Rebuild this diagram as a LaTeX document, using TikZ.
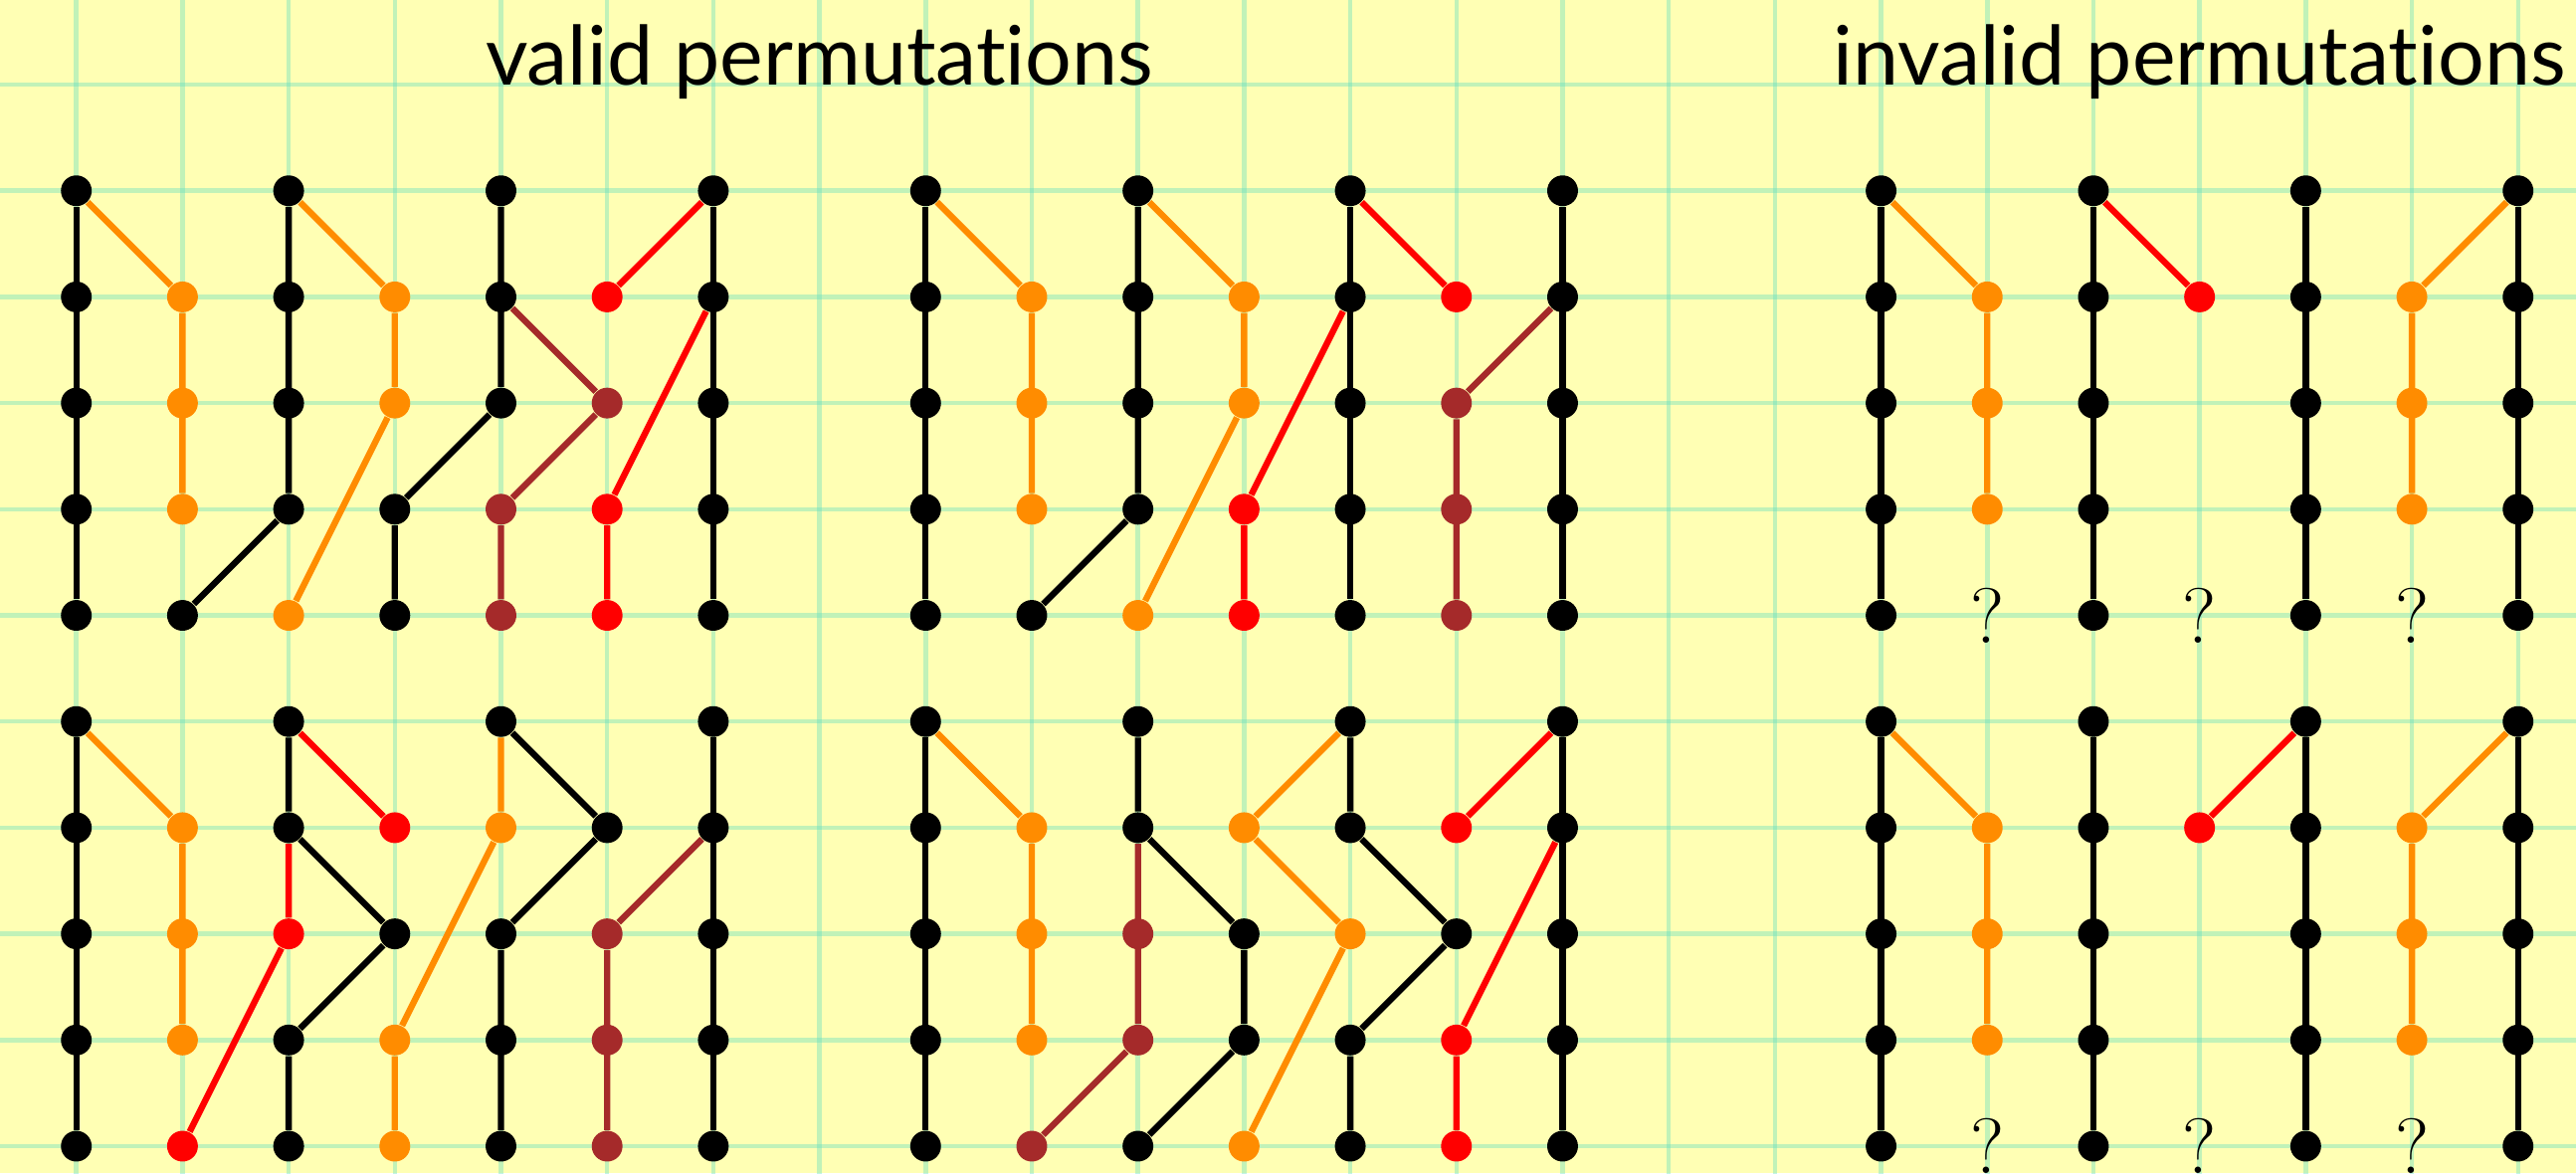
\documentclass[tikz,border=0pt]{standalone}
\usepackage{fontspec}
\newfontfamily\titolofont{Lato}[Ligatures=NoCommon]
\usetikzlibrary{positioning, backgrounds}
\definecolor{carta}{HTML}{FFFFB4}
\definecolor{griglia}{HTML}{66E0C0}
\definecolor{nero}{HTML}{000000}
\definecolor{arancio}{HTML}{FF8C00}
\definecolor{rosso}{HTML}{FF0000}
\definecolor{bruno}{HTML}{A52A2A}
\tikzset{
    pt/.style={circle, fill=#1, inner sep=0pt, minimum size=2.9mm},
    seg/.style={line width=1.7pt, draw=#1, line join=round},
    titolo/.style={font=\titolofont\fontsize{22}{26}\selectfont, anchor=base, inner sep=0pt},
    domanda/.style={font=\fontsize{21}{25}\selectfont, inner sep=0pt},
}
\pgfdeclarelayer{fondo}
\pgfdeclarelayer{linee}
\pgfsetlayers{fondo,linee,main}
% colonna piena di punti neri / colonna con punti riga/colore
\newcommand{\pieno}[2]{\foreach \r in {0,...,4} \node[pt=nero] (#1-#2-\r) at (#2,-\r) {};}
\newcommand{\colonna}[3]{\foreach \r/\k in {#3} \node[pt=\k] (#1-#2-\r) at (#2,-\r) {};}

\begin{document}
\begin{tikzpicture}
    \useasboundingbox (-0.719,-9.253) rectangle (23.546,1.797);
    % Carta a quadretti
    \begin{pgfonlayer}{fondo}
        \fill[carta] (-0.719,-9.253) rectangle (23.546,1.797);
        \foreach \x in {0,...,23} \draw[griglia, opacity=0.4, line width=1.2pt] (\x,-9.3) -- (\x,1.8);
        \foreach \y in {-9,...,1} \draw[griglia, opacity=0.4, line width=1.2pt] (-0.8,\y) -- (23.6,\y);
    \end{pgfonlayer}

    % Titoli
    \node[titolo] (tvalid) at (7,1) {valid permutations};
    \node[titolo] (tinvalid) at (20,1) {invalid permutations};

    % Valida A (in alto a sinistra)
    \pieno{A}{0} \pieno{A}{6}
    \colonna{A}{1}{1/arancio,2/arancio,3/arancio,4/nero}
    \colonna{A}{2}{0/nero,1/nero,2/nero,3/nero,4/arancio}
    \colonna{A}{3}{1/arancio,2/arancio,3/nero,4/nero}
    \colonna{A}{4}{0/nero,1/nero,2/nero,3/bruno,4/bruno}
    \colonna{A}{5}{1/rosso,2/bruno,3/rosso,4/rosso}
    \begin{pgfonlayer}{linee}
        \draw[seg=nero] (A-0-0) -- (A-0-4);
        \draw[seg=nero] (A-2-0) -- (A-2-3) -- (A-1-4);
        \draw[seg=nero] (A-3-4) -- (A-3-3) -- (A-4-2) -- (A-4-0);
        \draw[seg=nero] (A-6-0) -- (A-6-4);
        \draw[seg=arancio] (A-0-0) -- (A-1-1) -- (A-1-3);
        \draw[seg=arancio] (A-2-0) -- (A-3-1) -- (A-3-2) -- (A-2-4);
        \draw[seg=bruno] (A-4-1) -- (A-5-2) -- (A-4-3) -- (A-4-4);
        \draw[seg=rosso] (A-6-0) -- (A-5-1);
        \draw[seg=rosso] (A-6-1) -- (A-5-3) -- (A-5-4);
    \end{pgfonlayer}

    % Valida B (in alto al centro)
    \begin{scope}[shift={(8,0)}]
        \pieno{B}{0} \pieno{B}{4} \pieno{B}{6}
        \colonna{B}{1}{1/arancio,2/arancio,3/arancio,4/nero}
        \colonna{B}{2}{0/nero,1/nero,2/nero,3/nero,4/arancio}
        \colonna{B}{3}{1/arancio,2/arancio,3/rosso,4/rosso}
        \colonna{B}{5}{1/rosso,2/bruno,3/bruno,4/bruno}
    \end{scope}
    \begin{pgfonlayer}{linee}
        \draw[seg=nero] (B-0-0) -- (B-0-4);
        \draw[seg=nero] (B-2-0) -- (B-2-3) -- (B-1-4);
        \draw[seg=nero] (B-4-0) -- (B-4-4);
        \draw[seg=nero] (B-6-0) -- (B-6-4);
        \draw[seg=arancio] (B-0-0) -- (B-1-1) -- (B-1-3);
        \draw[seg=arancio] (B-2-0) -- (B-3-1) -- (B-3-2) -- (B-2-4);
        \draw[seg=rosso] (B-3-4) -- (B-3-3) -- (B-4-1);
        \draw[seg=rosso] (B-4-0) -- (B-5-1);
        \draw[seg=bruno] (B-6-1) -- (B-5-2) -- (B-5-4);
    \end{pgfonlayer}

    % Valida C (in basso a sinistra)
    \begin{scope}[shift={(0,-5)}]
        \pieno{C}{0} \pieno{C}{6}
        \colonna{C}{1}{1/arancio,2/arancio,3/arancio,4/rosso}
        \colonna{C}{2}{0/nero,1/nero,2/rosso,3/nero,4/nero}
        \colonna{C}{3}{1/rosso,2/nero,3/arancio,4/arancio}
        \colonna{C}{4}{0/nero,1/arancio,2/nero,3/nero,4/nero}
        \colonna{C}{5}{1/nero,2/bruno,3/bruno,4/bruno}
    \end{scope}
    \begin{pgfonlayer}{linee}
        \draw[seg=nero] (C-0-0) -- (C-0-4);
        \draw[seg=nero] (C-2-0) -- (C-2-1) -- (C-3-2) -- (C-2-3) -- (C-2-4);
        \draw[seg=nero] (C-4-0) -- (C-5-1) -- (C-4-2) -- (C-4-4);
        \draw[seg=nero] (C-6-0) -- (C-6-4);
        \draw[seg=arancio] (C-0-0) -- (C-1-1) -- (C-1-3);
        \draw[seg=arancio] (C-3-4) -- (C-3-3) -- (C-4-1) -- (C-4-0);
        \draw[seg=rosso] (C-1-4) -- (C-2-2) -- (C-2-1);
        \draw[seg=rosso] (C-2-0) -- (C-3-1);
        \draw[seg=bruno] (C-6-1) -- (C-5-2) -- (C-5-4);
    \end{pgfonlayer}

    % Valida D (in basso al centro)
    \begin{scope}[shift={(8,-5)}]
        \pieno{D}{0} \pieno{D}{6}
        \colonna{D}{1}{1/arancio,2/arancio,3/arancio,4/bruno}
        \colonna{D}{2}{0/nero,1/nero,2/bruno,3/bruno,4/nero}
        \colonna{D}{3}{1/arancio,2/nero,3/nero,4/arancio}
        \colonna{D}{4}{0/nero,1/nero,2/arancio,3/nero,4/nero}
        \colonna{D}{5}{1/rosso,2/nero,3/rosso,4/rosso}
    \end{scope}
    \begin{pgfonlayer}{linee}
        \draw[seg=nero] (D-0-0) -- (D-0-4);
        \draw[seg=nero] (D-2-0) -- (D-2-1) -- (D-3-2) -- (D-3-3) -- (D-2-4);
        \draw[seg=nero] (D-4-0) -- (D-4-1) -- (D-5-2) -- (D-4-3) -- (D-4-4);
        \draw[seg=nero] (D-6-0) -- (D-6-4);
        \draw[seg=arancio] (D-0-0) -- (D-1-1) -- (D-1-3);
        \draw[seg=arancio] (D-4-0) -- (D-3-1) -- (D-4-2) -- (D-3-4);
        \draw[seg=bruno] (D-1-4) -- (D-2-3) -- (D-2-1);
        \draw[seg=rosso] (D-6-0) -- (D-5-1);
        \draw[seg=rosso] (D-6-1) -- (D-5-3) -- (D-5-4);
    \end{pgfonlayer}

    % Non valide E (in alto) e F (in basso)
    \begin{scope}[shift={(17,0)}]
        \pieno{E}{0} \pieno{E}{2} \pieno{E}{4} \pieno{E}{6}
        \colonna{E}{1}{1/arancio,2/arancio,3/arancio}
        \colonna{E}{3}{1/rosso}
        \colonna{E}{5}{1/arancio,2/arancio,3/arancio}
        \foreach \c in {1,3,5} \node[domanda] (E-q\c) at (\c,-4) {?};
    \end{scope}
    \begin{scope}[shift={(17,-5)}]
        \pieno{F}{0} \pieno{F}{2} \pieno{F}{4} \pieno{F}{6}
        \colonna{F}{1}{1/arancio,2/arancio,3/arancio}
        \colonna{F}{3}{1/rosso}
        \colonna{F}{5}{1/arancio,2/arancio,3/arancio}
        \foreach \c in {1,3,5} \node[domanda] (F-q\c) at (\c,-4) {?};
    \end{scope}
    \begin{pgfonlayer}{linee}
        \foreach \c in {0,2,4,6} {
            \draw[seg=nero] (E-\c-0) -- (E-\c-4);
            \draw[seg=nero] (F-\c-0) -- (F-\c-4);
        }
        \draw[seg=arancio] (E-0-0) -- (E-1-1) -- (E-1-3);
        \draw[seg=arancio] (E-6-0) -- (E-5-1) -- (E-5-3);
        \draw[seg=rosso] (E-2-0) -- (E-3-1);
        \draw[seg=arancio] (F-0-0) -- (F-1-1) -- (F-1-3);
        \draw[seg=arancio] (F-6-0) -- (F-5-1) -- (F-5-3);
        \draw[seg=rosso] (F-4-0) -- (F-3-1);
    \end{pgfonlayer}
\end{tikzpicture}
\end{document}
